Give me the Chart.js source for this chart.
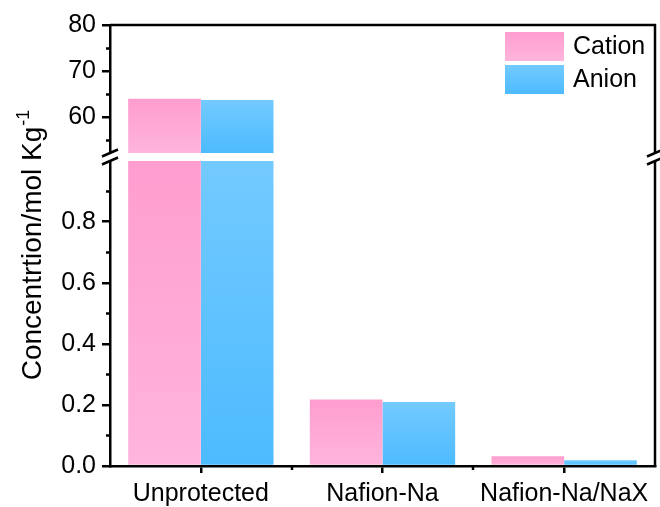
<!DOCTYPE html>
<html>
<head>
<meta charset="utf-8">
<script src="https://cdn.jsdelivr.net/npm/chart.js@4.4.1/dist/chart.umd.min.js"></script>
<style>
  html, body { margin: 0; padding: 0; background: #fff; }
  #wrap { width: 660px; height: 507px; }
</style>
</head>
<body>
<div id="wrap"><canvas id="chart" width="660" height="507"></canvas></div>
<script>
// Concentration after cycling, mol/kg
const categories = ['Unprotected', 'Nafion-Na', 'Nafion-Na/NaX'];
const seriesNames = ['Cation', 'Anion'];
const cation = [64.0, 0.218, 0.032];
const anion = [63.75, 0.21, 0.019];

// Broken y axis: upper and lower halves
const upperRange = [51.4, 80];
const lowerRange = [0, 1.012];
const upperTicks = [60, 70, 80];
const lowerTicks = [0, 0.2, 0.4, 0.6, 0.8];

const FONT = "'Liberation Sans', Arial, Helvetica, sans-serif";
const pinkStops = ['#ff9dcf', '#ffb5dc'];
const blueStops = ['#73caff', '#4dbbff'];
const GAP = 4; // half height of the white band at the break
const LINE = 2.5;

function segBounds(chart, id) {
    const s = chart.scales[id];
    return id === 'yUpper' ? [s.top, s.bottom - GAP] : [s.top + GAP, s.bottom];
}

// vertical gradient over the visible part of each bar
function gradientFill(stops) {
    return (ctx) => {
        const chart = ctx.chart;
        if (ctx.type !== 'data' || !chart.chartArea) return stops[0];
        const id = ctx.dataset.yAxisID;
        const scale = chart.scales[id];
        const [lo, hi] = segBounds(chart, id);
        const top = Math.max(scale.getPixelForValue(ctx.raw), lo);
        const bottom = Math.min(scale.getPixelForValue(scale.getBaseValue()), hi);
        if (bottom - top < 1) return stops[0];
        const g = chart.ctx.createLinearGradient(0, top, 0, bottom);
        g.addColorStop(0, stops[0]);
        g.addColorStop(1, stops[1]);
        return g;
    };
}

function makeSet(label, data, axis, stops) {
    return {
        label: label,
        data: data,
        yAxisID: axis,
        stack: label,
        backgroundColor: gradientFill(stops),
        borderWidth: 0,
        categoryPercentage: 0.8,
        barPercentage: 1.0
    };
}

function yScale(range, ticks, weight, fmt) {
    return {
        type: 'linear',
        position: 'left',
        stack: 'y',
        stackWeight: weight,
        stacked: false,
        offset: false,
        min: range[0],
        max: range[1],
        afterBuildTicks: (s) => { s.ticks = ticks.map(v => ({ value: v })); },
        afterFit: (s) => { s.width = 110; },
        grid: { drawOnChartArea: false, color: '#000', lineWidth: LINE, tickLength: 8 },
        border: { color: '#000', width: LINE },
        ticks: {
            color: '#000',
            padding: 6,
            font: { family: FONT, size: 25 },
            callback: fmt
        }
    };
}

function breakMark(ctx, x, y) {
    const w = 8, rise = 3.5, d = 4;
    ctx.fillStyle = '#fff';
    ctx.beginPath();
    ctx.moveTo(x - w, y - d + rise);
    ctx.lineTo(x + w, y - d - rise);
    ctx.lineTo(x + w, y + d - rise);
    ctx.lineTo(x - w, y + d + rise);
    ctx.closePath();
    ctx.fill();
    ctx.strokeStyle = '#000';
    ctx.lineWidth = LINE;
    [-d, d].forEach(dy => {
        ctx.beginPath();
        ctx.moveTo(x - w, y + dy + rise);
        ctx.lineTo(x + w, y + dy - rise);
        ctx.stroke();
    });
}

function minorTicks(ctx, scale, x) {
    const vals = scale.ticks.map(t => t.value);
    const step = vals[1] - vals[0];
    ctx.beginPath();
    for (let v = vals[0] - step / 2; v <= scale.max + 1e-9; v += step) {
        if (v < scale.min) continue;
        const y = Math.round(scale.getPixelForValue(v)) + 0.5;
        ctx.moveTo(x - 4, y);
        ctx.lineTo(x, y);
    }
    ctx.stroke();
}

const brokenAxis = {
    id: 'brokenAxis',
    beforeDatasetDraw(chart, args) {
        const id = args.meta.yAxisID;
        const [lo, hi] = segBounds(chart, id);
        const a = chart.chartArea;
        chart.ctx.save();
        chart.ctx.beginPath();
        chart.ctx.rect(a.left, lo, a.right - a.left, hi - lo);
        chart.ctx.clip();
    },
    afterDatasetDraw(chart) {
        chart.ctx.restore();
    },
    afterDraw(chart) {
        const ctx = chart.ctx;
        const a = chart.chartArea;
        const xs = chart.scales.x;
        ctx.save();
        ctx.strokeStyle = '#000';
        ctx.lineWidth = LINE;

        // frame: top and right
        ctx.beginPath();
        ctx.moveTo(a.left, a.top);
        ctx.lineTo(a.right, a.top);
        ctx.lineTo(a.right, a.bottom);
        ctx.stroke();

        // minor ticks
        minorTicks(ctx, chart.scales.yUpper, a.left);
        minorTicks(ctx, chart.scales.yLower, a.left);
        ctx.beginPath();
        for (let i = 0; i < categories.length - 1; i++) {
            const x = Math.round((xs.getPixelForValue(i) + xs.getPixelForValue(i + 1)) / 2);
            ctx.moveTo(x, a.bottom);
            ctx.lineTo(x, a.bottom + 4);
        }
        ctx.stroke();

        // break marks on both sides
        const yb = chart.scales.yUpper.bottom;
        breakMark(ctx, a.left, yb);
        breakMark(ctx, a.right, yb);

        // legend
        const lx = a.right - 150;
        [pinkStops, blueStops].forEach((stops, i) => {
            const top = a.top + 7 + i * 33;
            const g = ctx.createLinearGradient(0, top, 0, top + 29);
            g.addColorStop(0, stops[0]);
            g.addColorStop(1, stops[1]);
            ctx.fillStyle = g;
            ctx.fillRect(lx, top, 59, 29);
            ctx.fillStyle = '#000';
            ctx.font = `25px ${FONT}`;
            ctx.textAlign = 'left';
            ctx.textBaseline = 'middle';
            ctx.fillText(seriesNames[i], lx + 68, top + 15);
        });

        // y axis title, centred on the whole plot height
        ctx.translate(41, (a.top + a.bottom) / 2);
        ctx.rotate(-Math.PI / 2);
        ctx.fillStyle = '#000';
        ctx.textAlign = 'left';
        ctx.textBaseline = 'alphabetic';
        const main = 'Concentrtion/mol Kg';
        const sup = '-1';
        ctx.font = `28px ${FONT}`;
        const mw = ctx.measureText(main).width;
        ctx.font = `18px ${FONT}`;
        const sw = ctx.measureText(sup).width;
        const start = -(mw + sw) / 2;
        ctx.font = `28px ${FONT}`;
        ctx.fillText(main, start, 0);
        ctx.font = `18px ${FONT}`;
        ctx.fillText(sup, start + mw + 1, -12);
        ctx.restore();
    }
};

new Chart(document.getElementById('chart'), {
    type: 'bar',
    data: {
        labels: categories,
        datasets: [
            makeSet(seriesNames[0], cation, 'yLower', pinkStops),
            makeSet(seriesNames[1], anion, 'yLower', blueStops),
            makeSet(seriesNames[0], cation, 'yUpper', pinkStops),
            makeSet(seriesNames[1], anion, 'yUpper', blueStops)
        ]
    },
    options: {
        responsive: false,
        animation: false,
        devicePixelRatio: 1,
        layout: { padding: { top: 25, right: 5, left: 0, bottom: 0 } },
        plugins: {
            legend: { display: false },
            tooltip: { enabled: false }
        },
        scales: {
            x: {
                type: 'category',
                offset: true,
                afterFit: (s) => { s.height = 41; },
                grid: { offset: false, drawOnChartArea: false, color: '#000', lineWidth: LINE, tickLength: 7 },
                border: { color: '#000', width: LINE },
                ticks: { color: '#000', padding: 6, font: { family: FONT, size: 25 } }
            },
            yLower: yScale(lowerRange, lowerTicks, 309, v => v.toFixed(1)),
            yUpper: yScale(upperRange, upperTicks, 132, v => String(v))
        }
    },
    plugins: [brokenAxis]
});
</script>
</body>
</html>
